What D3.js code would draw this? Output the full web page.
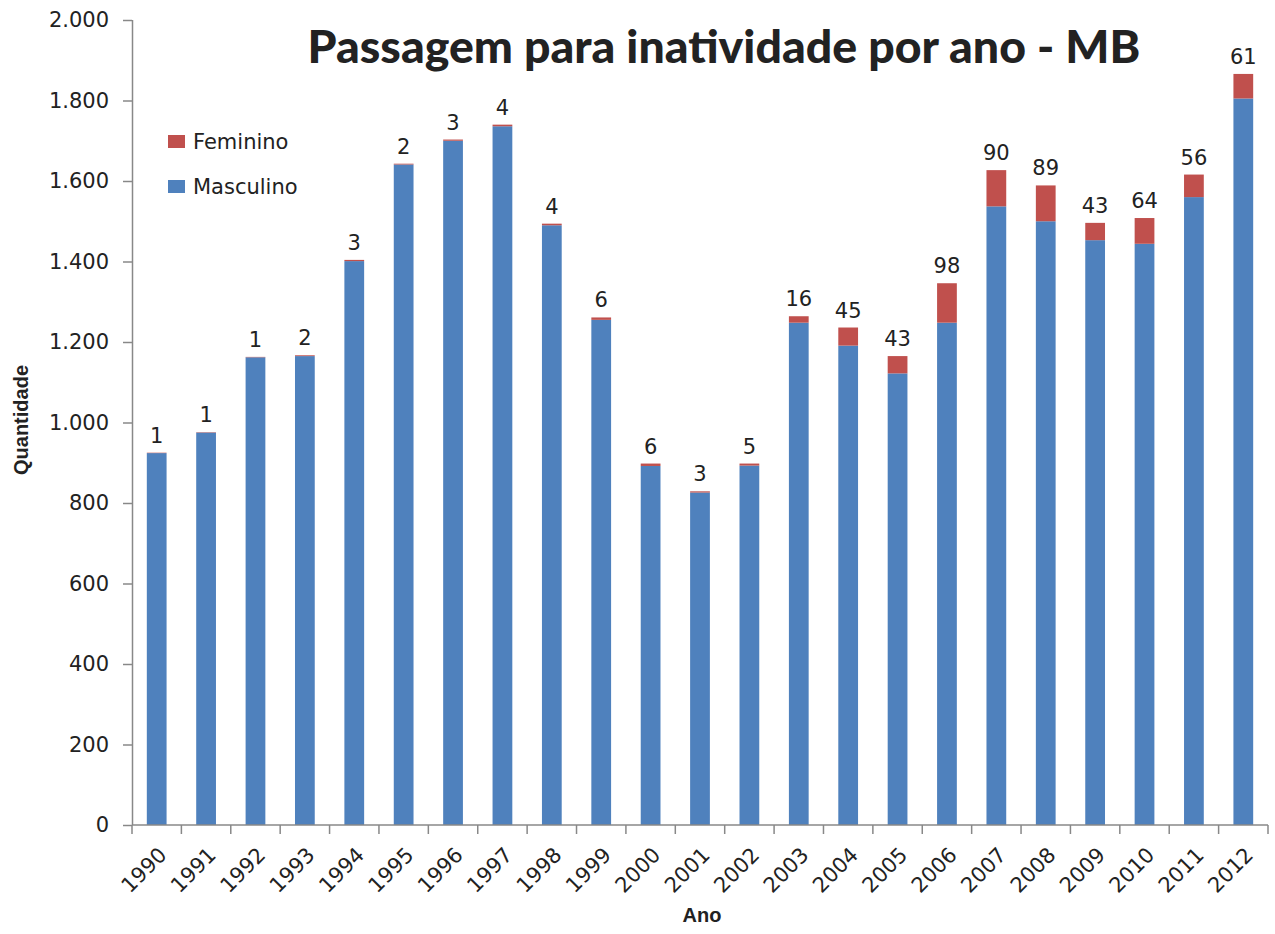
<!DOCTYPE html>
<html>
<head>
<meta charset="utf-8">
<script src="https://cdn.jsdelivr.net/npm/d3@7"></script>
<style>
  body { margin: 0; background: #fff; }
  text { font-family: "DejaVu Sans", Verdana, sans-serif; fill: #222; }
</style>
</head>
<body>
<div id="chart"></div>
<script>
const years = ['1990', '1991', '1992', '1993', '1994', '1995', '1996', '1997', '1998', '1999', '2000',
    '2001', '2002', '2003', '2004', '2005', '2006', '2007', '2008', '2009', '2010', '2011', '2012'];
const masculino = [924, 975, 1162, 1165, 1401, 1641, 1700, 1736, 1490, 1255, 892,
    826, 893, 1248, 1191, 1122, 1248, 1537, 1500, 1453, 1444, 1560, 1805];
const feminino = [1, 1, 1, 2, 3, 2, 3, 4, 4, 6, 6,
    3, 5, 16, 45, 43, 98, 90, 89, 43, 64, 56, 61];
const yTicks = [0, 200, 400, 600, 800, 1000, 1200, 1400, 1600, 1800, 2000];

const width = 1275, height = 934;
const plotLeft = 132, plotRight = 1268, plotTop = 20, plotBottom = 825;

const svg = d3.select('#chart').append('svg')
    .attr('width', width)
    .attr('height', height);

const x = d3.scaleBand()
    .domain(years)
    .range([plotLeft, plotRight])
    .paddingInner(0.6)
    .paddingOuter(0.3);

const y = d3.scaleLinear()
    .domain([0, 2000])
    .range([plotBottom, plotTop]);

const ptBR = d3.formatLocale({ decimal: ',', thousands: '.', grouping: [3], currency: ['R$', ''] });
const fmt = ptBR.format(',d');

const rows = years.map((yr, i) => ({ year: yr, m: masculino[i], f: feminino[i] }));

// bars
svg.append('g').selectAll('rect')
    .data(rows)
    .enter().append('rect')
    .attr('x', d => x(d.year))
    .attr('width', x.bandwidth())
    .attr('y', d => y(d.m))
    .attr('height', d => y(0) - y(d.m))
    .attr('fill', '#4F81BD');

svg.append('g').selectAll('rect')
    .data(rows)
    .enter().append('rect')
    .attr('x', d => x(d.year))
    .attr('width', x.bandwidth())
    .attr('y', d => y(d.m + d.f))
    .attr('height', d => y(d.m) - y(d.m + d.f))
    .attr('fill', '#C0504D');

// data labels (feminino)
svg.append('g').selectAll('text')
    .data(rows)
    .enter().append('text')
    .attr('x', d => x(d.year) + x.bandwidth() / 2)
    .attr('y', d => y(d.m + d.f) - 10)
    .attr('text-anchor', 'middle')
    .style('font-size', '21px')
    .text(d => d.f);

// y axis
const yAxis = svg.append('g')
    .attr('transform', `translate(${plotLeft},0)`)
    .call(d3.axisLeft(y).tickValues(yTicks).tickSize(9).tickPadding(14).tickFormat(fmt));
yAxis.selectAll('text').style('font-size', '21px').attr('fill', '#222');
yAxis.selectAll('line, path').attr('stroke', '#888').attr('stroke-width', 1.5);
yAxis.select('path').attr('d', `M0.5,${plotTop}V${plotBottom}`);

// x axis
const step = x.step();
const bounds = years.map(yr => x(yr) - x.paddingOuter() * step).concat([plotRight]);
const xAxis = svg.append('g').attr('transform', `translate(0,${plotBottom})`);
xAxis.append('line')
    .attr('x1', plotLeft).attr('x2', plotRight)
    .attr('stroke', '#888').attr('stroke-width', 1.5);
xAxis.selectAll('line.tick')
    .data(bounds)
    .enter().append('line')
    .attr('class', 'tick')
    .attr('x1', d => d).attr('x2', d => d)
    .attr('y1', 0).attr('y2', 9)
    .attr('stroke', '#888').attr('stroke-width', 1.5);
xAxis.selectAll('text')
    .data(years)
    .enter().append('text')
    .attr('transform', d => `translate(${x(d) + x.bandwidth() / 2 + 6},${26}) rotate(-45)`)
    .attr('text-anchor', 'end')
    .attr('dy', '0.35em')
    .style('font-size', '21px')
    .text(d => d);

// axis titles
svg.append('text')
    .attr('transform', `translate(28,420) rotate(-90)`)
    .attr('text-anchor', 'middle')
    .style('font-family', '"Liberation Sans", Arial, sans-serif')
    .style('font-weight', 'bold')
    .style('font-size', '20px')
    .attr('fill', '#111')
    .text('Quantidade');

svg.append('text')
    .attr('x', 702)
    .attr('y', 922)
    .attr('text-anchor', 'middle')
    .style('font-family', '"Liberation Sans", Arial, sans-serif')
    .style('font-weight', 'bold')
    .style('font-size', '20px')
    .attr('fill', '#111')
    .text('Ano');

// title
const title = svg.append('text')
    .attr('x', 724)
    .attr('y', 63)
    .attr('text-anchor', 'middle')
    .style('font-family', 'Lato, "Open Sans", sans-serif')
    .style('font-weight', '900')
    .style('font-size', '44px')
    .attr('fill', '#000')
    .text('Passagem para inatividade por ano - MB');
const tw = title.node().getComputedTextLength();
title.style('font-size', (44 * 833 / tw) + 'px');

// legend
const legend = svg.append('g').attr('transform', 'translate(168,135)');
const items = [{ name: 'Feminino', color: '#C0504D' }, { name: 'Masculino', color: '#4F81BD' }];
const li = legend.selectAll('g')
    .data(items)
    .enter().append('g')
    .attr('transform', (d, i) => `translate(0,${i * 45})`);
li.append('rect')
    .attr('width', 17).attr('height', 13)
    .attr('fill', d => d.color);
li.append('text')
    .attr('x', 25)
    .attr('y', 7)
    .attr('dy', '0.35em')
    .style('font-size', '21px')
    .text(d => d.name);
</script>
</body>
</html>
